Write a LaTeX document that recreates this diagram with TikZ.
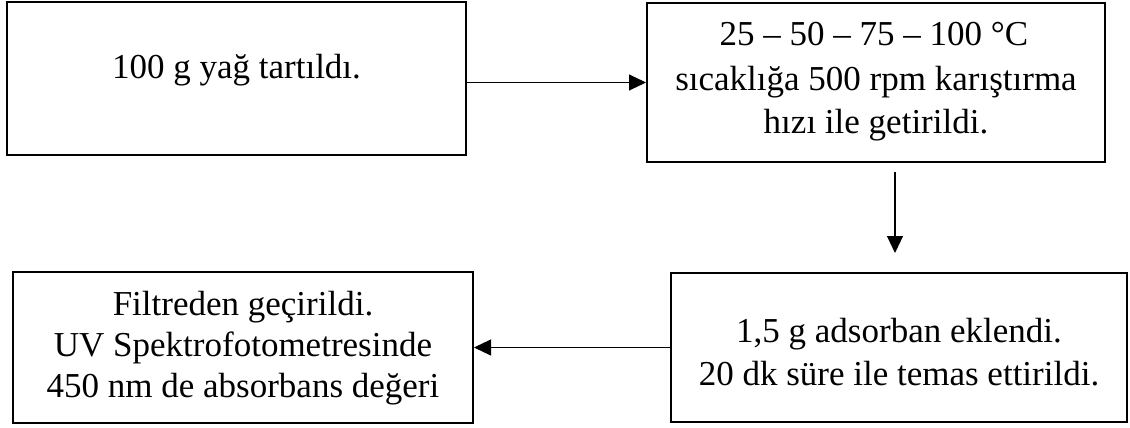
\documentclass[tikz,border=0pt]{standalone}
\usepackage{fontspec}
\setmainfont{Liberation Serif}
\usetikzlibrary{arrows.meta}

\tikzset{
  stepbox/.style={draw=black, line width=2pt, inner sep=0pt, rectangle},
  steptext/.style={anchor=base, inner sep=0pt,
    font=\fontsize{35}{43}\selectfont},
  flow/.style={draw=black, line width=1.1pt,
    -{Triangle[length=17pt, width=16pt]}}
}

\begin{document}
\begin{tikzpicture}[x=1pt, y=-1pt]
  \useasboundingbox (0,0) rectangle (1130,428);

  % process boxes
  \node[stepbox, minimum width=459pt, minimum height=153pt] (b1) at (236.5,78.5) {};
  \node[stepbox, minimum width=458pt, minimum height=159pt] (b2) at (876,82.5) {};
  \node[stepbox, minimum width=456pt, minimum height=149pt] (b3) at (899,347.5) {};
  \node[stepbox, minimum width=460pt, minimum height=151pt] (b4) at (243,347.5) {};

  % box texts
  \node[steptext] (t1) at (236.5,78) {100 g yağ tartıldı.};

  \node[steptext] (t2a) at (874,46) {25 – 50 – 75 – 100 °C};
  \node[steptext] (t2b) at (876,90) {sıcaklığa 500 rpm karıştırma};
  \node[steptext] (t2c) at (876,133) {hızı ile getirildi.};

  \node[steptext] (t3a) at (899,342) {1,5 g adsorban eklendi.};
  \node[steptext] (t3b) at (899,385) {20 dk süre ile temas ettirildi.};

  \node[steptext] (t4a) at (243,315) {Filtreden geçirildi.};
  \node[steptext] (t4b) at (243,356) {UV Spektrofotometresinde};
  \node[steptext] (t4c) at (243,397) {450 nm de absorbans değeri};

  % connectors
  \coordinate (d1) at (895,172);
  \coordinate (d2) at (895,253);
  \draw[flow] (b1.east |- b2.west) -- (b2.west);
  \draw[flow] (d1) -- (d2);
  \draw[flow] (b3.west) -- (b4.east);
\end{tikzpicture}
\end{document}
